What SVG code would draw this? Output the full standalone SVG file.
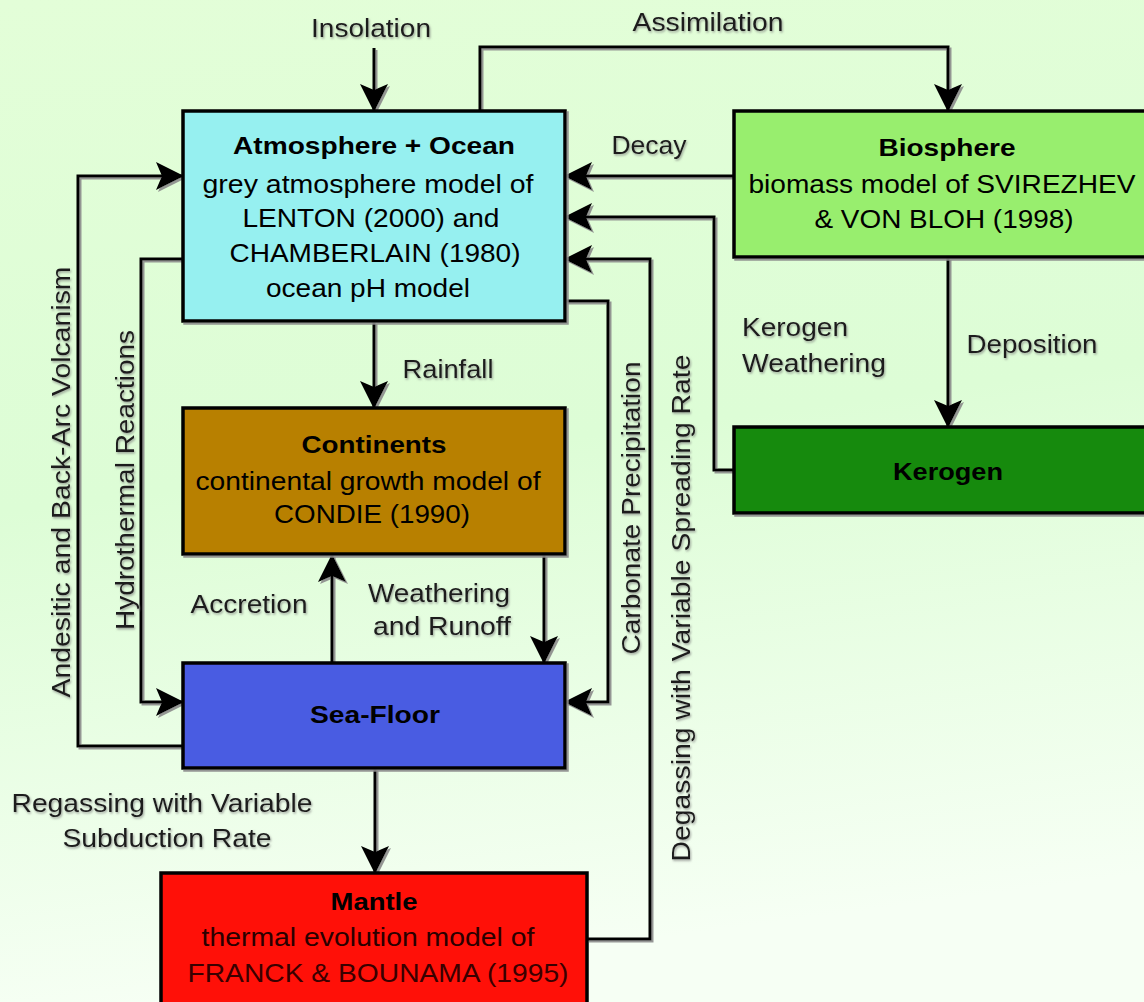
<svg xmlns="http://www.w3.org/2000/svg" width="1144" height="1002" viewBox="0 0 1144 1002">
<defs>
<linearGradient id="bg" x1="0" y1="0" x2="0.15" y2="1">
<stop offset="0" stop-color="#e3fed8"/>
<stop offset="0.5" stop-color="#ddfdd6"/>
<stop offset="1" stop-color="#f6fff4"/>
</linearGradient>
<filter id="sh" x="-5%" y="-5%" width="110%" height="110%">
<feDropShadow dx="2" dy="2" stdDeviation="0.7" flood-color="#8a8a8a" flood-opacity="0.9"/>
</filter>
<filter id="tsh" x="-5%" y="-10%" width="110%" height="130%">
<feDropShadow dx="1" dy="1.5" stdDeviation="0.8" flood-color="#777" flood-opacity="0.7"/>
</filter>
<marker id="ah" viewBox="0 0 28 28" refX="27" refY="14" markerWidth="28" markerHeight="28" markerUnits="userSpaceOnUse" orient="auto">
<path d="M0,0 L28,14 L0,28 L6,14 Z" fill="#000"/>
</marker>
</defs>
<style>
.box{stroke:#000;stroke-width:3.5}
.t{font-family:"Liberation Sans",Arial,sans-serif;font-size:25.5px;fill:#000;text-anchor:middle}
.b{font-weight:bold;font-size:24px;fill:#000}
.lb{font-family:"Liberation Sans",Arial,sans-serif;font-size:25.5px;fill:#1a1a1a;text-anchor:middle}
.c{fill:none;stroke:#000;stroke-width:3}
.a{marker-end:url(#ah)}
</style>
<rect x="0" y="0" width="1144" height="1002" fill="url(#bg)"/>

<g id="connectors" filter="url(#sh)">
<path class="c a" d="M374,48 V111"/>
<path class="c a" d="M480,111 V47 H948 V111"/>
<path class="c a" d="M734,176 H565"/>
<path class="c a" d="M734,470 H714 V217 H565"/>
<path class="c a" d="M587,939 H650 V259 H565"/>
<path class="c a" d="M565,301 H608 V702 H565"/>
<path class="c a" d="M374,322 V408"/>
<path class="c a" d="M544,555 V663"/>
<path class="c a" d="M332,663 V555"/>
<path class="c a" d="M375,768 V873"/>
<path class="c a" d="M183,259 H141 V702 H183"/>
<path class="c a" d="M183,746 H78 V176 H183"/>
<path class="c a" d="M948,258 V427"/>
</g>

<g id="labels" filter="url(#tsh)">
<text class="lb" x="371" y="37" textLength="120" lengthAdjust="spacingAndGlyphs">Insolation</text>
<text class="lb" x="708" y="31" textLength="151" lengthAdjust="spacingAndGlyphs">Assimilation</text>
<text class="lb" x="649" y="154" textLength="75" lengthAdjust="spacingAndGlyphs">Decay</text>
<text class="lb" x="448" y="378" textLength="91" lengthAdjust="spacingAndGlyphs">Rainfall</text>
<text class="lb" x="249" y="613" textLength="117" lengthAdjust="spacingAndGlyphs">Accretion</text>
<text class="lb" x="439" y="602" textLength="142" lengthAdjust="spacingAndGlyphs">Weathering</text>
<text class="lb" x="442" y="635" textLength="138" lengthAdjust="spacingAndGlyphs">and Runoff</text>
<text class="lb" x="795" y="336" textLength="106" lengthAdjust="spacingAndGlyphs">Kerogen</text>
<text class="lb" x="814" y="372" textLength="144" lengthAdjust="spacingAndGlyphs">Weathering</text>
<text class="lb" x="1032" y="353" textLength="131" lengthAdjust="spacingAndGlyphs">Deposition</text>
<text class="lb" x="162" y="812" textLength="301" lengthAdjust="spacingAndGlyphs">Regassing with Variable</text>
<text class="lb" x="167" y="847" textLength="209" lengthAdjust="spacingAndGlyphs">Subduction Rate</text>
<text class="lb" transform="translate(70,482) rotate(-90)" textLength="431" lengthAdjust="spacingAndGlyphs">Andesitic and Back-Arc Volcanism</text>
<text class="lb" transform="translate(134,480) rotate(-90)" textLength="300" lengthAdjust="spacingAndGlyphs">Hydrothermal Reactions</text>
<text class="lb" transform="translate(640,508) rotate(-90)" textLength="293" lengthAdjust="spacingAndGlyphs">Carbonate Precipitation</text>
<text class="lb" transform="translate(690,608) rotate(-90)" textLength="507" lengthAdjust="spacingAndGlyphs">Degassing with Variable Spreading Rate</text>
</g>

<g id="atmosphere">
<rect class="box" x="183" y="111" width="382" height="210" fill="#96f0f0" filter="url(#sh)"/>
<text class="t b" x="374" y="154" textLength="282" lengthAdjust="spacingAndGlyphs">Atmosphere + Ocean</text>
<text class="t" x="368" y="193" textLength="331" lengthAdjust="spacingAndGlyphs">grey atmosphere model of</text>
<text class="t" x="371" y="227" textLength="257" lengthAdjust="spacingAndGlyphs">LENTON (2000) and</text>
<text class="t" x="375" y="262" textLength="291" lengthAdjust="spacingAndGlyphs">CHAMBERLAIN (1980)</text>
<text class="t" x="368" y="297" textLength="204" lengthAdjust="spacingAndGlyphs">ocean pH model</text>
</g>

<g id="biosphere">
<rect class="box" x="734" y="111" width="430" height="146" fill="#98ee6e" filter="url(#sh)"/>
<text class="t b" x="947" y="156" textLength="137" lengthAdjust="spacingAndGlyphs">Biosphere</text>
<text class="t" x="942" y="193" textLength="387" lengthAdjust="spacingAndGlyphs">biomass model of SVIREZHEV</text>
<text class="t" x="944" y="228" textLength="259" lengthAdjust="spacingAndGlyphs">&amp; VON BLOH (1998)</text>
</g>

<g id="continents">
<rect class="box" x="183" y="408" width="382" height="146" fill="#b88000" filter="url(#sh)"/>
<text class="t b" x="374" y="453" textLength="145" lengthAdjust="spacingAndGlyphs">Continents</text>
<text class="t" x="368" y="490" textLength="345" lengthAdjust="spacingAndGlyphs">continental growth model of</text>
<text class="t" x="372" y="523" textLength="196" lengthAdjust="spacingAndGlyphs">CONDIE (1990)</text>
</g>

<g id="kerogen">
<rect class="box" x="734" y="427" width="430" height="86" fill="#148a0c" filter="url(#sh)"/>
<text class="t b" x="948" y="480" textLength="110" lengthAdjust="spacingAndGlyphs">Kerogen</text>
</g>

<g id="seafloor">
<rect class="box" x="183" y="663" width="382" height="105" fill="#4a5ce2" filter="url(#sh)"/>
<text class="t b" x="375" y="723" textLength="130" lengthAdjust="spacingAndGlyphs">Sea-Floor</text>
</g>

<g id="mantle">
<rect class="box" x="161" y="873" width="426" height="150" fill="#ff1008"/>
<text class="t b" x="374" y="910" textLength="87" lengthAdjust="spacingAndGlyphs">Mantle</text>
<text class="t" x="368" y="946" textLength="333" lengthAdjust="spacingAndGlyphs" style="fill:#2a0000">thermal evolution model of</text>
<text class="t" x="378" y="982" textLength="381" lengthAdjust="spacingAndGlyphs" style="fill:#3a0000">FRANCK &amp; BOUNAMA (1995)</text>
</g>
</svg>
